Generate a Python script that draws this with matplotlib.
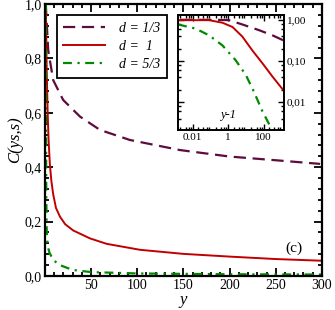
import matplotlib
matplotlib.use("Agg")
import matplotlib.pyplot as plt
from matplotlib.ticker import FuncFormatter, MultipleLocator, LogLocator, FixedLocator, NullFormatter

plt.rcParams['font.family'] = ['Liberation Serif', 'DejaVu Serif']
plt.rcParams['mathtext.fontset'] = 'stix'

# --- data ---
labels = ['d = 1/3', 'd =  1', 'd = 5/3']
colors = ['#5e0b3e', '#c00000', '#008a00']

# main panel: C(ys,s) vs y
y_third = [1, 2, 3.6, 9, 19.8, 38, 59.6, 92, 146, 200, 255, 298]
c_third = [1.0, 0.93, 0.83, 0.72, 0.647, 0.586, 0.537, 0.50, 0.463, 0.439, 0.424, 0.412]

y_one = [1, 1.5, 2, 3, 4, 5.4, 7, 9, 12, 16.3, 22, 30.7, 48.8, 66.8, 103, 150, 200, 250, 298]
c_one = [1.0, 0.88, 0.75, 0.60, 0.50, 0.41, 0.35, 0.30, 0.25, 0.218, 0.19, 0.167, 0.138, 0.118,
         0.096, 0.081, 0.071, 0.062, 0.056]

y_five = [1, 1.2, 1.5, 2, 3, 5, 7, 10, 16, 30, 50, 100, 200, 300]
c_five = [1.0, 0.55, 0.30, 0.16, 0.11, 0.085, 0.072, 0.056, 0.040, 0.022, 0.014, 0.009, 0.006, 0.005]

# inset: log-log vs y-1
x_in_third = [0.002, 0.2, 1.1, 6.3, 55, 310, 1230]
c_in_third = [1.0, 1.0, 0.98, 0.77, 0.56, 0.42, 0.32]

x_in_one = [0.0017, 0.083, 0.47, 1.74, 6.3, 23, 85, 310, 1230]
c_in_one = [0.98, 0.98, 0.85, 0.67, 0.39, 0.18, 0.088, 0.042, 0.020]

x_in_five = [0.0015, 0.015, 0.083, 0.47, 2.6, 9.8, 28, 85, 245]
c_in_five = [0.77, 0.61, 0.42, 0.24, 0.105, 0.046, 0.018, 0.006, 0.0025]

styles = [dict(ls=(0, (5.5, 3)), lw=1.6),
          dict(ls='-', lw=1.4),
          dict(ls=(0, (4, 2.5, 1, 2.5)), lw=1.6)]

fig = plt.figure(figsize=(3.35, 3.10), dpi=100)
ax = fig.add_axes([0.134, 0.110, 0.827, 0.877])

main_data = [(y_third, c_third), (y_one, c_one), (y_five, c_five)]
for (xs, cs), col, st, lab in zip(main_data, colors, styles, labels):
    ax.plot(xs, cs, color=col, label=lab, **st)

ax.set_xlim(0, 300)
ax.set_ylim(0, 1.0)
ax.xaxis.set_major_locator(FixedLocator([50, 100, 150, 200, 250, 300]))
ax.xaxis.set_minor_locator(MultipleLocator(10))
ax.yaxis.set_major_locator(MultipleLocator(0.2))
ax.yaxis.set_minor_locator(MultipleLocator(0.04))
ax.yaxis.set_major_formatter(FuncFormatter(lambda v, p: f'{v:.1f}'.replace('.', ',')))
ax.tick_params(which='both', direction='in', top=True, right=True, labelsize=10, width=1.3)
ax.tick_params(which='major', length=6, pad=2)
ax.tick_params(which='minor', length=3)
for s in ax.spines.values():
    s.set_linewidth(1.6)
ax.set_xlabel('y', style='italic', fontsize=12, labelpad=0)
ax.set_ylabel('C(ys,s)', style='italic', fontsize=12, labelpad=1)
ax.text(0.90, 0.10, '(c)', transform=ax.transAxes, fontsize=11, ha='center', va='center')

leg = ax.legend(loc='upper left', bbox_to_anchor=(0.042, 0.96), borderaxespad=0,
                fancybox=False, edgecolor='black', framealpha=1, handlelength=3.0,
                handletextpad=1.0, borderpad=0.5, labelspacing=0.35,
                prop={'style': 'italic', 'size': 10})
leg.get_frame().set_linewidth(1.3)

# inset
ins = fig.add_axes([0.530, 0.580, 0.318, 0.373])
in_data = [(x_in_third, c_in_third), (x_in_one, c_in_one), (x_in_five, c_in_five)]
for (xs, cs), col, st in zip(in_data, colors, styles):
    ins.plot(xs, cs, color=col, **st)
ins.set_xscale('log')
ins.set_yscale('log')
ins.set_xlim(1.4e-3, 1.4e3)
ins.set_ylim(2.1e-3, 1.34)
ins.xaxis.set_major_locator(FixedLocator([1e-2, 1, 1e2]))
ins.xaxis.set_minor_locator(LogLocator(base=10, subs=(2, 4, 6, 8), numticks=20))
ins.xaxis.set_minor_formatter(NullFormatter())
ins.xaxis.set_major_formatter(FuncFormatter(lambda v, p: {1e-2: '0.01', 1: '1', 1e2: '100'}.get(v, '')))
ins.yaxis.set_major_locator(FixedLocator([1e-2, 1e-1, 1]))
ins.yaxis.set_minor_locator(LogLocator(base=10, subs=(2, 4, 6, 8), numticks=20))
ins.yaxis.set_minor_formatter(NullFormatter())
ins.yaxis.set_major_formatter(FuncFormatter(lambda v, p: f'{v:.2f}'.replace('.', ',')))
ins.yaxis.tick_right()
ins.tick_params(which='both', direction='in', top=True, left=True, right=True,
                labelsize=8, width=1.0, pad=2)
ins.tick_params(which='major', length=4)
ins.tick_params(which='minor', length=2)
for s in ins.spines.values():
    s.set_linewidth(1.4)
ins.text(0.47, 0.13, 'y-1', transform=ins.transAxes, style='italic', fontsize=9,
         ha='center', va='center')

fig.savefig('out.png', dpi=100)
